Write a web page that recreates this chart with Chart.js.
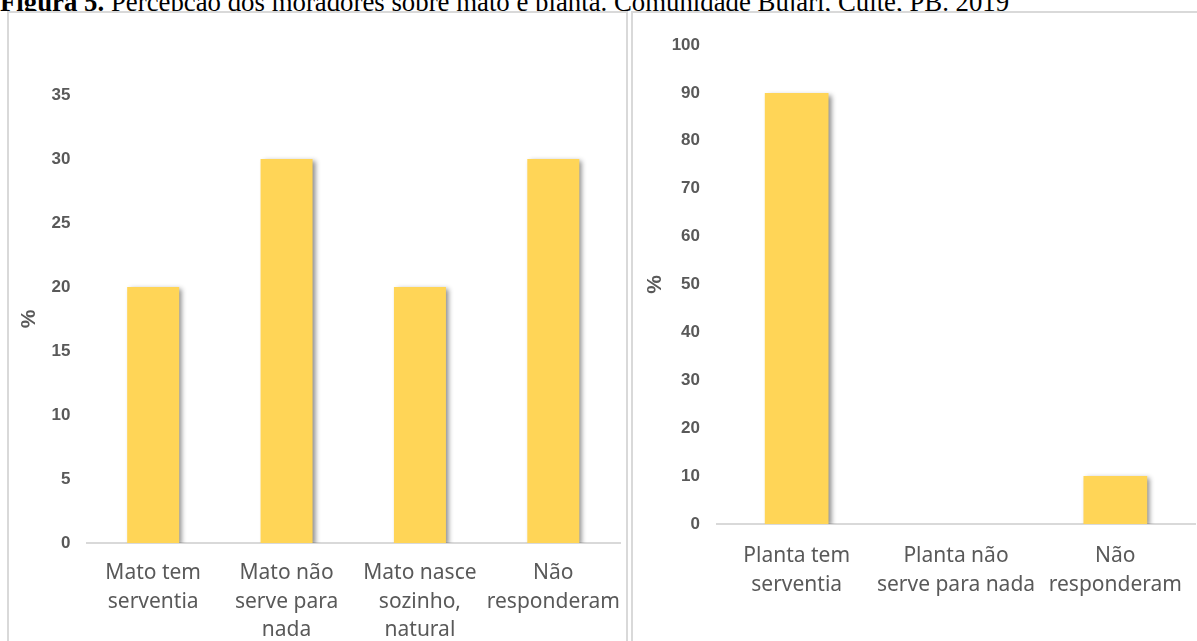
<!DOCTYPE html>
<html>
<head>
<meta charset="utf-8">
<script src="https://cdn.jsdelivr.net/npm/chart.js@4.4.1/dist/chart.umd.min.js"></script>
<style>
    body { margin: 0; background: #fff; overflow: hidden; width: 1197px; height: 641px; position: relative; }
    #titulo { position: absolute; left: 0; top: -13px; font-family: "Liberation Serif", "Times New Roman", serif; font-size: 26.8px; white-space: nowrap; color: #000; }
    .painel { position: absolute; border: 2px solid #d9d9d9; box-sizing: border-box; background: #fff; }
    #painelMato { left: 7px; top: 11px; width: 621px; height: 660px; }
    #painelPlanta { left: 631px; top: 11px; width: 600px; height: 660px; }
    canvas { position: absolute; }
</style>
</head>
<body>
<div id="titulo"><b>Figura 5.</b> Percepção dos moradores sobre mato e planta. Comunidade Bujari, Cuité, PB. 2019</div>
<div class="painel" id="painelMato"></div>
<div class="painel" id="painelPlanta"></div>
<canvas id="matoChart" style="left:10px; top:14px; width:616px; height:627px;" width="616" height="627"></canvas>
<canvas id="plantaChart" style="left:633px; top:13px; width:564px; height:628px;" width="564" height="628"></canvas>
<script>
const categoriasMato = [['Mato tem', 'serventia'], ['Mato não', 'serve para', 'nada'], ['Mato nasce', 'sozinho,', 'natural'], ['Não', 'responderam']];
const valoresMato = [20, 30, 20, 30];
const ticksMato = [0, 5, 10, 15, 20, 25, 30, 35];

const categoriasPlanta = [['Planta tem', 'serventia'], ['Planta não', 'serve para nada'], ['Não', 'responderam']];
const valoresPlanta = [90, 0, 10];
const ticksPlanta = [0, 10, 20, 30, 40, 50, 60, 70, 80, 90, 100];

const corBarra = '#FFD557';
const corTexto = '#595959';

// sombra do Excel atras das barras
const sombraPlugin = {
    id: 'sombra',
    beforeDatasetsDraw(chart) {
        const ctx = chart.ctx;
        ctx.save();
        ctx.shadowColor = 'rgba(0,0,0,0.45)';
        ctx.shadowBlur = 5;
        ctx.shadowOffsetX = 3;
        ctx.shadowOffsetY = 2;
    },
    afterDatasetsDraw(chart) {
        chart.ctx.restore();
    }
};

function criarGrafico(id, labels, values, ticks, opts) {
    new Chart(document.getElementById(id), {
        type: 'bar',
        data: {
            labels: labels,
            datasets: [{
                    label: '%',
                    data: values,
                    backgroundColor: corBarra,
                    borderWidth: 0,
                    barPercentage: opts.barPct,
                    categoryPercentage: 1
                }]
        },
        options: {
            responsive: false,
            animation: false,
            layout: {
                padding: {top: opts.top, right: opts.right, left: 0, bottom: 0}
            },
            plugins: {
                legend: {display: false},
                tooltip: {enabled: false}
            },
            scales: {
                x: {
                    grid: {display: false, drawTicks: false},
                    border: {display: true, color: '#d9d9d9', width: 2},
                    ticks: {
                        color: corTexto,
                        maxRotation: 0,
                        autoSkip: false,
                        padding: opts.xPad,
                        font: {family: 'Noto Sans', size: 21, lineHeight: 1.36}
                    },
                    afterFit: function (scale) {
                        scale.height = opts.xHeight;
                        // os rotulos podem sair da area, como no Excel
                        scale.paddingLeft = 0;
                        scale.paddingRight = 0;
                    }
                },
                y: {
                    min: 0,
                    max: ticks[ticks.length - 1],
                    afterBuildTicks: function (scale) {
                        scale.ticks = ticks.map(v => ({value: v}));
                    },
                    grid: {display: false, drawTicks: false},
                    border: {display: false},
                    ticks: {
                        color: corTexto,
                        padding: opts.yPad,
                        font: {family: 'Liberation Sans', size: 17, weight: 'bold'}
                    },
                    title: {
                        display: true,
                        text: '%',
                        color: corTexto,
                        padding: {top: opts.titlePad, bottom: 0},
                        font: {family: 'Liberation Sans', size: 21, weight: 'bold'}
                    },
                    afterFit: function (scale) {
                        scale.width = opts.yWidth;
                    }
                }
            }
        },
        plugins: [sombraPlugin]
    });
}

criarGrafico('matoChart', categoriasMato, valoresMato, ticksMato,
    {top: 81, right: 6, barPct: 0.39, xPad: 16, xHeight: 98, yPad: 16, yWidth: 76.5, titlePad: 7});
criarGrafico('plantaChart', categoriasPlanta, valoresPlanta, ticksPlanta,
    {top: 32, right: 2, barPct: 0.4, xPad: 18, xHeight: 117, yPad: 17, yWidth: 84, titlePad: 10});
</script>
</body>
</html>
